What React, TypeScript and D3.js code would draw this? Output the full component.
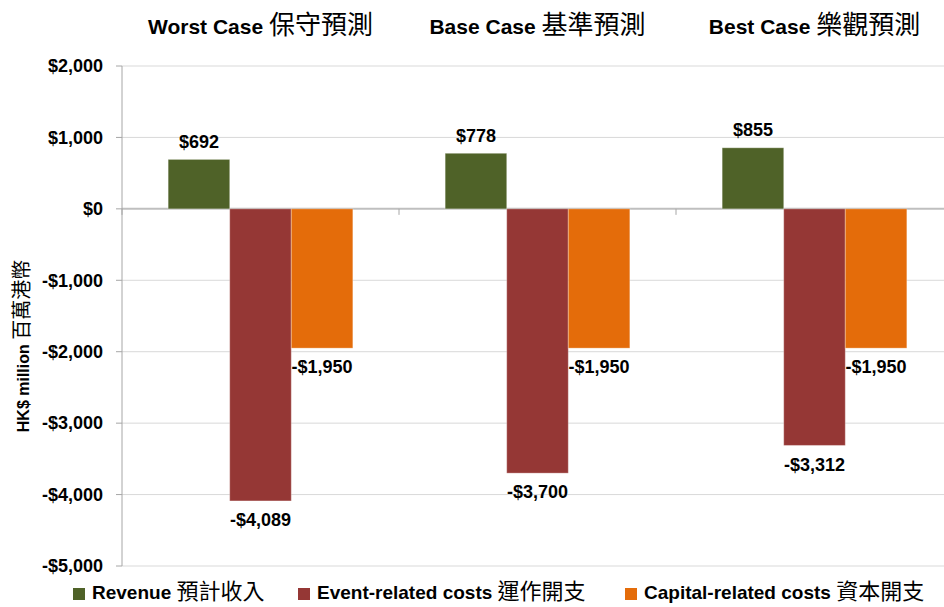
import React from "react";
import * as d3 from "d3";

const scenarios = ["Worst Case", "Base Case", "Best Case"];
const scenariosZh = ["保守預測", "基準預測", "樂觀預測"];
const seriesNames = ["Revenue", "Event-related costs", "Capital-related costs"];
const seriesNamesZh = ["預計收入", "運作開支", "資本開支"];
const seriesColors = ["#4F6228", "#953735", "#E46C0A"];
const revenue = [692, 778, 855];
const eventCosts = [-4089, -3700, -3312];
const capitalCosts = [-1950, -1950, -1950];
const yTicks = [2000, 1000, 0, -1000, -2000, -3000, -4000, -5000];

const W = 944;
const H = 607;
const FONT = "'Liberation Sans', Arial, sans-serif";
const CJK = "'Noto Sans CJK TC', 'Noto Sans CJK SC', sans-serif";

const fmt = (v: number) => (v < 0 ? "-$" : "$") + d3.format(",")(Math.abs(v));

export default function App() {
  const left = 122;
  const catW = 277;
  const top = 66;
  const bottom = 566;
  const y = d3.scaleLinear().domain([-5000, 2000]).range([bottom, top]);
  const x0 = d3.scaleBand().domain(scenarios).range([left, left + catW * 3]).paddingInner(0).paddingOuter(0);
  const x1 = d3.scaleBand().domain(seriesNames).range([0, catW]).paddingOuter(0.75).paddingInner(0);
  const series = [revenue, eventCosts, capitalCosts];

  return (
    <svg width={W} height={H} style={{ position: "absolute", left: 0, top: 0, background: "#fff" }}>
      {yTicks.map((t) => (
        <line key={"g" + t} x1={left} x2={W} y1={y(t)} y2={y(t)} stroke={t === 0 ? "#BFBFBF" : "#D9D9D9"} strokeWidth={t === 0 ? 2 : 1} />
      ))}
      <line x1={left} x2={left} y1={top} y2={bottom} stroke="#A6A6A6" strokeWidth={1} />
      {yTicks.map((t) => (
        <g key={"t" + t}>
          <line x1={left - 6} x2={left} y1={y(t)} y2={y(t)} stroke="#A6A6A6" />
          <text x={103} y={y(t)} dy="0.35em" textAnchor="end" fontFamily={FONT} fontWeight="bold" fontSize={18} fill="#000">
            {fmt(t)}
          </text>
        </g>
      ))}
      {scenarios.map((s) => (
        <line key={"c" + s} x1={x0(s)!} x2={x0(s)!} y1={y(0)} y2={y(0) + 6} stroke="#A6A6A6" />
      ))}
      {scenarios.map((s, i) =>
        series.map((vals, k) => {
          const v = vals[i];
          const bx = x0(s)! + x1(seriesNames[k])!;
          const bw = x1.bandwidth();
          const y0 = y(Math.max(0, v));
          const h = Math.abs(y(v) - y(0));
          return (
            <rect key={s + k} x={bx} y={y0} width={bw} height={h} fill={seriesColors[k]} stroke="#ffffff" strokeOpacity={0.3} strokeWidth={1} />
          );
        })
      )}
      {scenarios.map((s, i) =>
        series.map((vals, k) => {
          const v = vals[i];
          const cx = x0(s)! + x1(seriesNames[k])! + x1.bandwidth() / 2;
          const ly = v >= 0 ? y(v) - 18 : y(v) + 19;
          return (
            <text key={"l" + s + k} x={cx} y={ly} dy="0.35em" textAnchor="middle" fontFamily={FONT} fontWeight="bold" fontSize={18} fill="#000">
              {fmt(v)}
            </text>
          );
        })
      )}
      {scenarios.map((s, i) => (
        <text key={"h" + s} x={x0(s)! + catW / 2} y={34} textAnchor="middle" fontSize={21} fill="#000">
          <tspan fontFamily={FONT} fontWeight="bold">{s} </tspan>
          <tspan fontFamily={CJK} fontWeight="normal" fontSize={26}>{scenariosZh[i]}</tspan>
        </text>
      ))}
      <text transform={`translate(23, 346) rotate(-90)`} textAnchor="middle" dy="0.35em" fontSize={16} fill="#000">
        <tspan fontFamily={FONT} fontWeight="bold">HK$ million </tspan>
        <tspan fontFamily={CJK} fontWeight="normal" fontSize={20}>百萬港幣</tspan>
      </text>
      {seriesNames.map((n, k) => {
        const lx = [73, 298, 625][k];
        return (
          <g key={"lg" + n}>
            <rect x={lx} y={588} width={12} height={12} fill={seriesColors[k]} />
            <text x={lx + 19} y={599} fontSize={19} fill="#000">
              <tspan fontFamily={FONT} fontWeight="bold">{n} </tspan>
              <tspan fontFamily={CJK} fontSize={22}>{seriesNamesZh[k]}</tspan>
            </text>
          </g>
        );
      })}
    </svg>
  );
}
